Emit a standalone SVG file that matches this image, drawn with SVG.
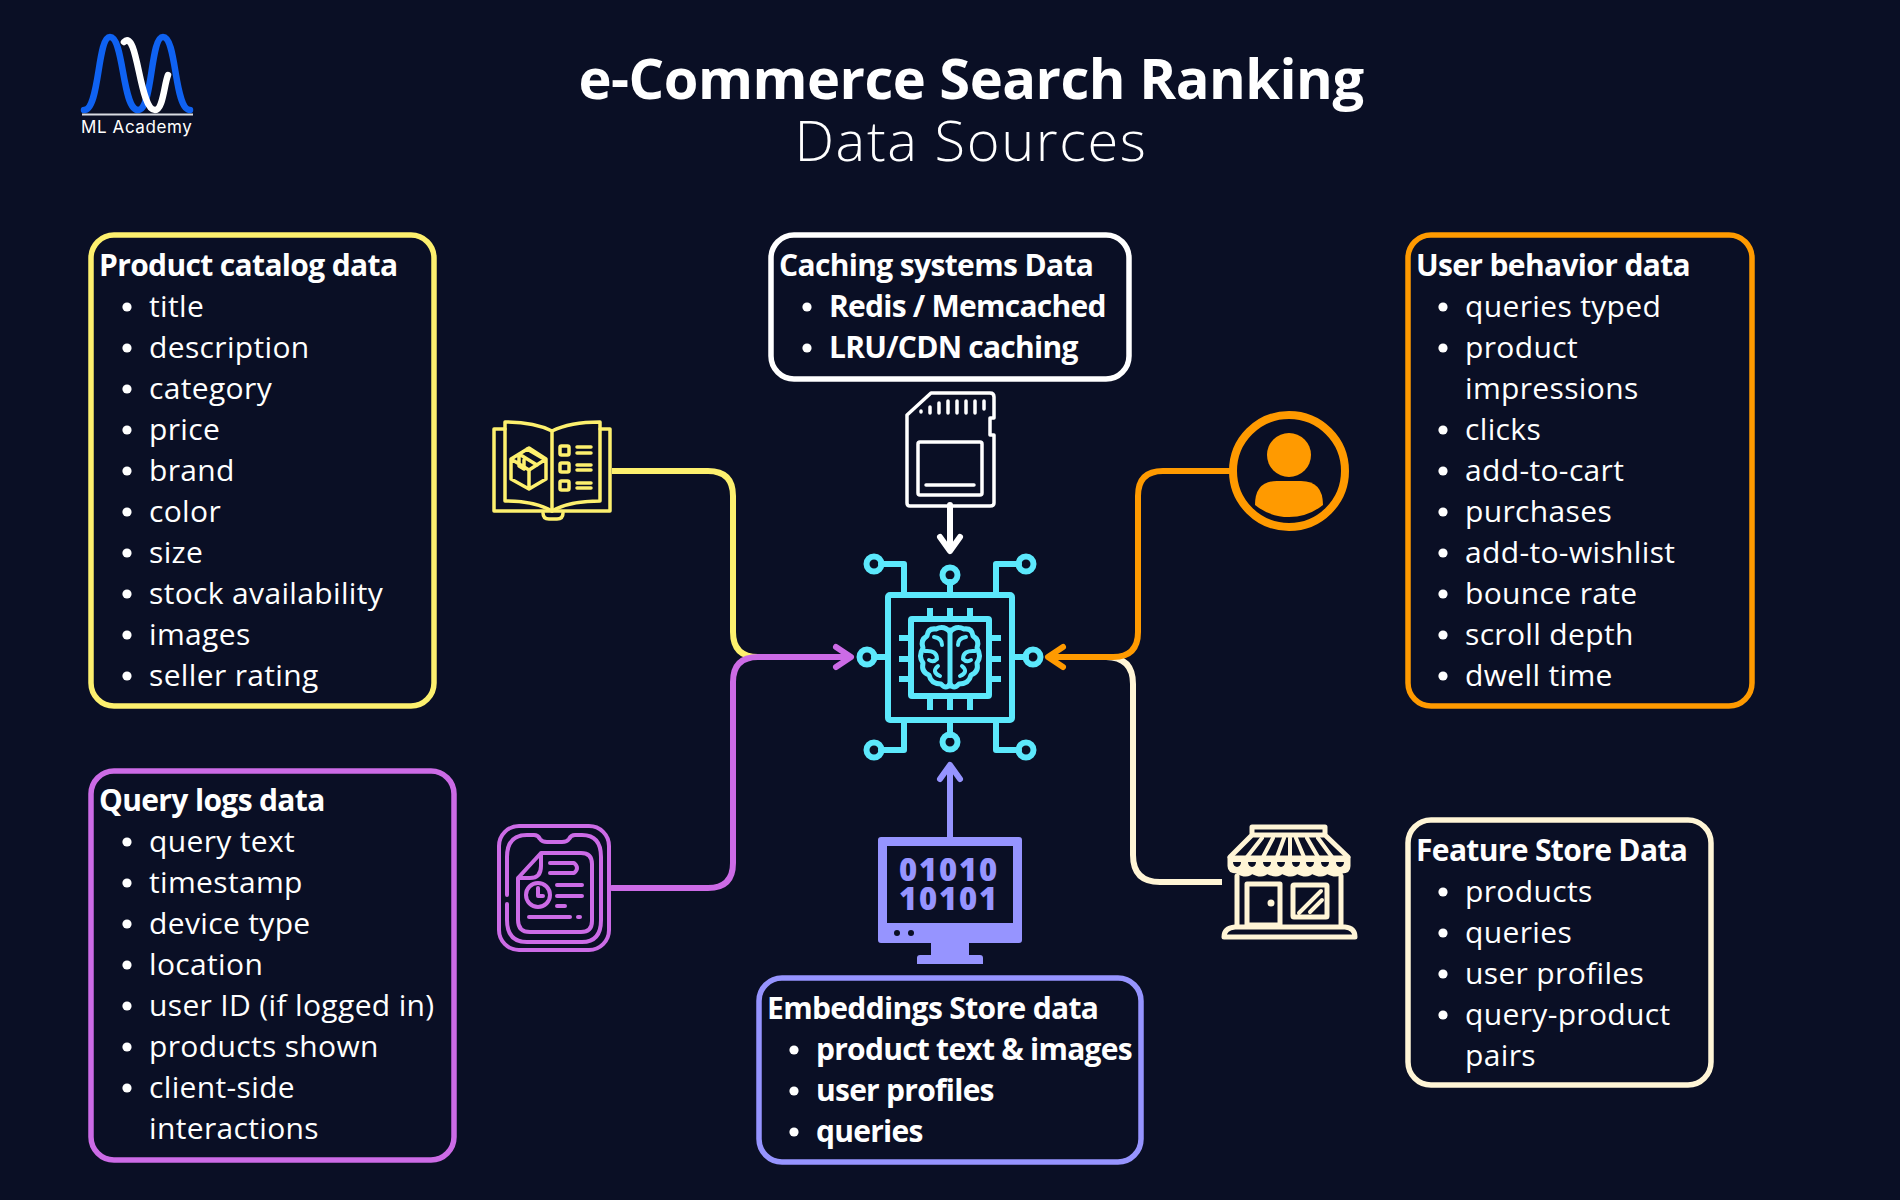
<svg xmlns="http://www.w3.org/2000/svg" width="1900" height="1200" viewBox="0 0 1900 1200">
<style>
text{font-family:"Open Sans","Noto Sans",sans-serif;fill:#fff}
.t{font-size:30px;letter-spacing:.35px}
.h{font-size:30px;font-weight:700;letter-spacing:-.65px}
.b{font-size:30px;font-weight:700;letter-spacing:-.75px}
.box{fill:none;stroke-width:5.5}
.ln{fill:none;stroke-width:6;stroke-linejoin:round}
.ic{fill:none;stroke-linecap:round;stroke-linejoin:round}
.cy{stroke:#5ce8fc;fill:none;stroke-linecap:round;stroke-linejoin:round}
</style>
<defs><g id="dot"><circle r="4.6" fill="#fff"/></g><path id="scallop" d="M-4 0A4 5 0 0 0 4 0Z" fill="#0a0f25" stroke="none"/></defs>
<rect width="1900" height="1200" fill="#0a0f25"/>

<g id="logo">
<path class="ic" stroke="#0f62f2" stroke-width="6.5" d="M84 110C100 110 97 37 110 37C124 37 122 110 138 110C153 110 150 37 163 37C177 37 174 110 190 110"/>
<path class="ic" stroke="#fff" stroke-width="6.5" d="M124 42C138 28 139 110 155 110C163 110 164 85 168 75"/>
<path d="M82 114.500H193" stroke="#d8dbe2" stroke-width="2" fill="none"/>
<text x="81" y="133" style="font-family:Inter,sans-serif;font-size:17px;letter-spacing:.6px">ML Academy</text>
</g>

<g id="title">
<text x="971" y="99" text-anchor="middle" style="font-size:56px;font-weight:700;letter-spacing:-.5px">e-Commerce Search Ranking</text>
<text x="971" y="161" text-anchor="middle" style="font-size:56px;font-weight:300;letter-spacing:1.6px">Data Sources</text>
</g>

<g id="connectors">
<path class="ln" stroke="#fdf06e" d="M612 471H708Q733 471 733 496V632Q733 657 758 657H790"/>
<path class="ln" stroke="#cc6be6" stroke-linecap="round" d="M612 888H708Q733 888 733 863V682Q733 657 758 657H850M836 647L851 657L836 667"/>
<path class="ln" stroke="#fff5d6" d="M1222 882H1160Q1133 882 1133 855V684Q1133 657 1106 657H1090"/>
<path class="ln" stroke="#ff9a00" stroke-linecap="round" d="M1230 471H1163Q1138 471 1138 496V632Q1138 657 1113 657H1049M1063 647L1048 657L1063 667"/>
<path class="ln" stroke="#fff" stroke-linecap="round" d="M950 505V550M940 537L950 551L960 537"/>
<path class="ln" stroke="#9694ff" stroke-linecap="round" d="M950 837V766M940 779L950 765L960 779"/>
</g>

<g id="node-product-catalog">
<rect class="box" stroke="#fdf06e" x="91" y="235" width="343" height="471" rx="23"/>
<text class="h" x="99" y="276">Product catalog data</text>
<text class="t" x="149" y="317">title</text><text class="t" x="149" y="358">description</text><text class="t" x="149" y="399">category</text><text class="t" x="149" y="440">price</text><text class="t" x="149" y="481">brand</text><text class="t" x="149" y="522">color</text><text class="t" x="149" y="563">size</text><text class="t" x="149" y="604">stock availability</text><text class="t" x="149" y="645">images</text><text class="t" x="149" y="686">seller rating</text>
<use href="#dot" x="127" y="307"/><use href="#dot" x="127" y="348"/><use href="#dot" x="127" y="389"/><use href="#dot" x="127" y="430"/><use href="#dot" x="127" y="471"/><use href="#dot" x="127" y="512"/><use href="#dot" x="127" y="553"/><use href="#dot" x="127" y="594"/><use href="#dot" x="127" y="635"/><use href="#dot" x="127" y="676"/>
</g>

<g id="node-caching">
<rect class="box" stroke="#fff" x="771" y="235" width="358" height="144" rx="23"/>
<text class="h" x="779" y="276">Caching systems Data</text>
<text class="b" x="829" y="317">Redis / Memcached</text>
<text class="b" x="829" y="358">LRU/CDN caching</text>
<use href="#dot" x="807" y="307"/><use href="#dot" x="807" y="348"/>
</g>

<g id="node-user-behavior">
<rect class="box" stroke="#ff9a00" x="1408" y="235" width="344" height="471" rx="23"/>
<text class="h" x="1416" y="276">User behavior data</text>
<text class="t" x="1465" y="317">queries typed</text><text class="t" x="1465" y="358">product</text><text class="t" x="1465" y="399">impressions</text><text class="t" x="1465" y="440">clicks</text><text class="t" x="1465" y="481">add-to-cart</text><text class="t" x="1465" y="522">purchases</text><text class="t" x="1465" y="563">add-to-wishlist</text><text class="t" x="1465" y="604">bounce rate</text><text class="t" x="1465" y="645">scroll depth</text><text class="t" x="1465" y="686">dwell time</text>
<use href="#dot" x="1443" y="307"/><use href="#dot" x="1443" y="348"/><use href="#dot" x="1443" y="430"/><use href="#dot" x="1443" y="471"/><use href="#dot" x="1443" y="512"/><use href="#dot" x="1443" y="553"/><use href="#dot" x="1443" y="594"/><use href="#dot" x="1443" y="635"/><use href="#dot" x="1443" y="676"/>
</g>

<g id="node-query-logs">
<rect class="box" stroke="#cc6be6" x="91" y="771" width="363" height="389" rx="23"/>
<text class="h" x="99" y="811">Query logs data</text>
<text class="t" x="149" y="852">query text</text><text class="t" x="149" y="893">timestamp</text><text class="t" x="149" y="934">device type</text><text class="t" x="149" y="975">location</text><text class="t" x="149" y="1016">user ID (if logged in)</text><text class="t" x="149" y="1057">products shown</text><text class="t" x="149" y="1098">client-side</text><text class="t" x="149" y="1139">interactions</text>
<use href="#dot" x="127" y="842"/><use href="#dot" x="127" y="883"/><use href="#dot" x="127" y="924"/><use href="#dot" x="127" y="965"/><use href="#dot" x="127" y="1006"/><use href="#dot" x="127" y="1047"/><use href="#dot" x="127" y="1088"/>
</g>

<g id="node-embeddings">
<rect class="box" stroke="#9694ff" x="759" y="978" width="382" height="184" rx="23"/>
<text class="h" x="767" y="1019">Embeddings Store data</text>
<text class="b" x="816" y="1060">product text &amp; images</text><text class="b" x="816" y="1101">user profiles</text><text class="b" x="816" y="1142">queries</text>
<use href="#dot" x="794" y="1050"/><use href="#dot" x="794" y="1091"/><use href="#dot" x="794" y="1132"/>
</g>

<g id="node-feature-store">
<rect class="box" stroke="#fff5d6" x="1408" y="820" width="303" height="265" rx="23"/>
<text class="h" x="1416" y="861">Feature Store Data</text>
<text class="t" x="1465" y="902">products</text><text class="t" x="1465" y="943">queries</text><text class="t" x="1465" y="984">user profiles</text><text class="t" x="1465" y="1025">query-product</text><text class="t" x="1465" y="1066">pairs</text>
<use href="#dot" x="1443" y="892"/><use href="#dot" x="1443" y="933"/><use href="#dot" x="1443" y="974"/><use href="#dot" x="1443" y="1015"/>
</g>

<g id="icon-book" class="ic" stroke="#fdf06e" stroke-width="3.500">
<path d="M505 429H494V511H610V429H600"/>
<path d="M505 422C525 422 540 425 552 431C564 425 580 422 600 422V501C580 501 564 504 552 511C540 504 525 501 505 501Z"/>
<path d="M552 431V511M543 513Q543 519 549 519H557Q563 519 563 513"/>
<path d="M529 448L546 459V479L529 489L511 479V459ZM511 459L529 470L546 459M529 470V489M519 454L537 465M527 449L544 459M519 454V466L524 469V460"/>
<rect x="560" y="446" width="9" height="9" rx="1.500"/><rect x="560" y="463" width="9" height="9" rx="1.500"/><rect x="560" y="481" width="9" height="9" rx="1.500"/>
<path d="M577 447H591M577 453H591M577 465H591M577 470H591M577 483H591M577 488H591"/>
</g>

<g id="icon-query-log" class="ic" stroke="#cc6be6" stroke-width="4">
<rect x="499" y="826" width="110" height="124" rx="20"/>
<path d="M507 895V857Q507 835 527 835H534Q538 835 540 839Q542 842 547 842H562Q567 842 569 839Q571 835 575 835H582Q601 835 601 857V920Q601 942 582 942H527Q507 942 507 920V904"/>
<path d="M518 878L541 853H581Q592 853 592 864V921Q592 932 581 932H530Q518 932 518 920ZM518 878H530Q541 878 541 866V853"/>
<path d="M550 863H574Q580 868 574 873H550"/>
<circle cx="538" cy="895" r="12"/><path d="M538 888V896H543"/>
<path d="M557 885H582M557 896H582M557 906H565M529 917H570M578 917H580"/>
</g>

<g id="icon-sd" class="ic" stroke="#fff" stroke-width="3.500">
<path d="M931 393H990Q994 393 994 397V418H990V435H994V503Q994 506 990 506H910Q907 506 907 503V415Z"/>
<rect x="918" y="442" width="64" height="53" rx="2"/>
<path d="M926 485H974"/>
<path d="M921 411V412M930 407V413M939 403V413M948 401V413M957 401V413M966 401V413M975 401V413M984 401V409"/>
</g>

<g id="icon-user">
<circle cx="1289" cy="471" r="56" fill="none" stroke="#ff9a00" stroke-width="8"/>
<circle cx="1289" cy="455" r="22" fill="#ff9a00"/>
<path d="M1255 505Q1255 481 1277 481H1301Q1323 481 1323 505V505Q1308 517 1289 517Q1270 517 1255 505Z" fill="#ff9a00"/>
</g>

<g id="icon-store" class="ic" stroke="#fff5d6" stroke-width="5">
<path d="M1252 827V835H1325V827ZM1252 835L1230 857M1325 835L1348 857"/>
<path d="M1230 858H1348V866Q1348 871 1342 871Q1337 877 1327 871Q1322 877 1312 871Q1307 877 1297 871Q1292 877 1282 871Q1277 877 1267 871Q1262 877 1252 871Q1247 877 1237 871Q1230 871 1230 866Z" fill="#fff5d6"/>
<use href="#scallop" x="1237" y="862"/><use href="#scallop" x="1252" y="862"/><use href="#scallop" x="1267" y="862"/><use href="#scallop" x="1281" y="862"/><use href="#scallop" x="1296" y="862"/><use href="#scallop" x="1310" y="862"/><use href="#scallop" x="1325" y="862"/><use href="#scallop" x="1340" y="862"/>
<path d="M1247 857L1262 838M1263 857L1273 838M1277 857L1284 838M1290 857V838M1304 857L1296 838M1318 857L1307 838M1332 857L1318 838" stroke-width="4"/>
<path d="M1237 876V925M1341 876V925"/>
<rect x="1247" y="884" width="33" height="41"/>
<circle cx="1271" cy="903" r="2.500" fill="#fff5d6" stroke-width="2"/>
<rect x="1293" y="885" width="34" height="32" rx="1"/>
<path d="M1299 913L1321 891M1310 912L1322 900" stroke-width="4"/>
<path d="M1235 927H1345Q1355 928 1355 937H1224Q1224 928 1235 927Z"/>
</g>

<g id="icon-embeddings">
<path fill="#9694ff" fill-rule="evenodd" d="M881 837H1019Q1022 837 1022 840V940Q1022 943 1019 943H969V955H980Q983 955 983 958V964H917V958Q917 955 920 955H931V943H881Q878 943 878 940V840Q878 837 881 837ZM887 846V923H1013V846Z"/>
<circle cx="897" cy="933" r="3" fill="#0a0f25"/><circle cx="911" cy="933" r="3" fill="#0a0f25"/>
<text x="949" y="881" text-anchor="middle" style="font-size:31px;font-weight:800;fill:#9694ff;letter-spacing:1.800px">01010</text>
<text x="949" y="910" text-anchor="middle" style="font-size:31px;font-weight:800;fill:#9694ff;letter-spacing:1.800px">10101</text>
</g>

<g id="node-core">
<g class="cy" stroke-width="6">
<rect x="888" y="595" width="124" height="125" rx="2"/>
<path d="M881 564H904V592M1019 564H996V592M881 750H904V723M1019 750H996V723M950 582V592M950 723V735M874 657H885M1015 657H1026"/>
<circle cx="874" cy="564" r="7.500"/><circle cx="1026" cy="564" r="7.500"/><circle cx="874" cy="750" r="7.500"/><circle cx="1026" cy="750" r="7.500"/>
<circle cx="950" cy="575" r="7.500"/><circle cx="950" cy="742" r="7.500"/><circle cx="867" cy="657" r="7.500"/><circle cx="1033" cy="657" r="7.500"/>
<rect x="911" y="619" width="78" height="77" rx="1"/>
<path stroke-linecap="butt" d="M930 608V617M950 608V617M970 608V617M930 698V710M950 698V710M970 698V710M899 638H909M899 659H909M899 679H909M991 638H1001M991 659H1001M991 679H1001"/>
</g>
<g class="cy" stroke-width="5">
<path d="M950 630V686"/>
<path d="M950 632Q944 625 936 629Q928 628 927 636Q920 640 923 648Q918 656 923 663Q921 672 929 675Q931 684 941 684Q946 690 950 684Q954 690 959 684Q969 684 971 675Q979 672 977 663Q982 656 977 648Q980 640 973 636Q972 628 964 629Q956 625 950 632Z"/>
<path d="M934 637Q942 638 942 645M925 651Q937 650 937 659Q933 663 929 660M938 666Q931 672 940 676M966 637Q958 638 958 645M975 651Q963 650 963 659Q967 663 971 660M962 666Q969 672 960 676" stroke-width="4"/>
</g>
</g>
</svg>
